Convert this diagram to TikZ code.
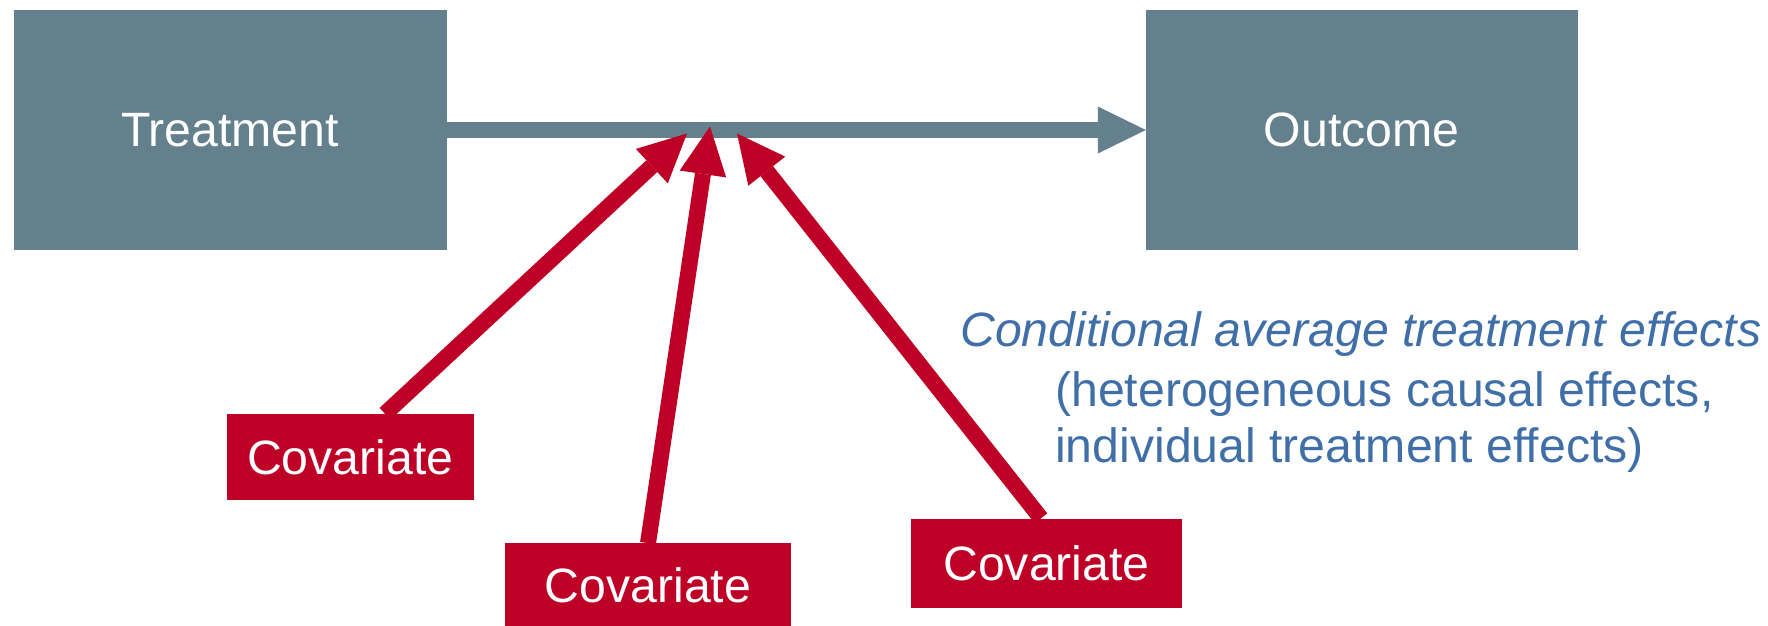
\documentclass[tikz,border=0pt]{standalone}
\usepackage{fontspec}
\setmainfont{Liberation Sans}
\usetikzlibrary{arrows.meta}

\definecolor{slate}{RGB}{100,128,140}
\definecolor{crimson}{RGB}{190,0,39}
\definecolor{steelblue}{RGB}{64,111,168}

\begin{document}
\begin{tikzpicture}[x=1pt,y=-1pt,
  every node/.style={font=\fontsize{48.2pt}{58pt}\selectfont},
  mainbox/.style={fill=slate, text=white, inner sep=0pt, minimum height=240pt},
  covbox/.style={fill=crimson, text=white, inner sep=0pt},
  effectline/.style={draw=slate, line width=16pt,
    -{Triangle[length=48pt,width=47pt,line width=0pt]}},
  modline/.style={draw=crimson, line width=16pt,
    -{Triangle[length=48pt,width=47pt,line width=0pt]}},
  note/.style={text=steelblue, inner sep=0pt, anchor=base west}]
  \useasboundingbox (0,0) rectangle (1768,625);

  % main causal path
  \node[mainbox, minimum width=433pt]   (treat) at (230,130)    {Treatment};
  \node[mainbox, minimum width=431.5pt] (out)   at (1361.75,130) {Outcome};
  \draw[effectline] (treat.east) -- (out.west);

  % covariates
  \node[covbox, minimum width=247.3pt, minimum height=86pt]   (cov1) at (350.3,457) {Covariate};
  \node[covbox, minimum width=286pt,   minimum height=83.4pt] (cov2) at (648,585)   {Covariate};
  \node[covbox, minimum width=271pt,   minimum height=89pt]   (cov3) at (1046.5,563) {Covariate};

  % points where the moderating arrows meet the effect
  \coordinate (hit1) at (687,133.5);
  \coordinate (hit2) at (710,126.5);
  \coordinate (hit3) at (737,133.5);

  \draw[modline] ([xshift=34.7pt]cov1.north) -- (hit1);
  \draw[modline] (cov2.north) -- (hit2);
  \draw[modline] ([xshift=-5.5pt]cov3.north) -- (hit3);

  % explanation
  \node[note] (cate1) at (960,346) {\itshape Conditional average treatment effects};
  \node[note] (cate2) at (1055,406) {(heterogeneous causal effects,};
  \node[note] (cate3) at (1055,462) {individual treatment effects)};
\end{tikzpicture}
\end{document}
